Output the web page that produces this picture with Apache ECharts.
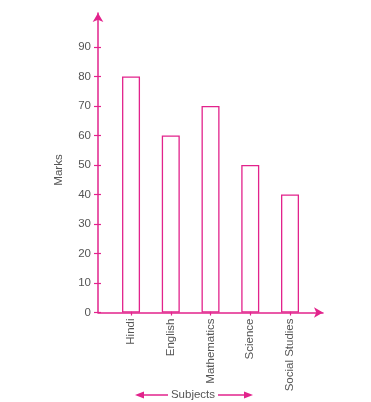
<!DOCTYPE html>
<html>
<head>
<meta charset="utf-8">
<script src="https://cdn.jsdelivr.net/npm/echarts@6/dist/echarts.min.js"></script>
<style>
html,body{margin:0;padding:0;background:#fff;}
#chart{width:371px;height:402px;}
</style>
</head>
<body>
<div id="chart"></div>
<script>
// Data
var subjects = ['Hindi', 'English', 'Mathematics', 'Science', 'Social Studies'];
var marks = [80, 60, 70, 50, 40];
var yTicks = [0, 10, 20, 30, 40, 50, 60, 70, 80, 90];

var MAG = '#e2238c';
var TXT = '#555555';
var FONT = '"Liberation Sans", Arial, sans-serif';
var FS = 11.5;

var positions = subjects.map(function (s, i) { return i + 1; });
var barData = marks.map(function (v, i) { return [positions[i], v]; });

var gridRect = { left: 98, right: 48, top: 13, bottom: 89.5, containLabel: false };
var xMin = 0.169, xMax = 5.83;
var yMin = 0, yMax = 101.5;

var chart = echarts.init(document.getElementById('chart'), null, { renderer: 'canvas' });
chart.setOption({
  animation: false,
  backgroundColor: '#fff',
  grid: [
    Object.assign({}, gridRect),
    Object.assign({}, gridRect)
  ],
  xAxis: [{
    type: 'value', gridIndex: 0, min: xMin, max: xMax,
    splitLine: { show: false },
    axisLine: { show: true, onZero: false, lineStyle: { color: MAG, width: 1.5 },
      symbol: ['none', 'arrow'], symbolSize: [8, 9] },
    axisTick: { show: true, length: 3, customValues: positions, lineStyle: { color: MAG, width: 1.2 } },
    axisLabel: {
      customValues: positions, rotate: 90, margin: 6,
      color: TXT, fontSize: FS, fontFamily: FONT,
      formatter: function (v) { return subjects[Math.round(v) - 1] || ''; }
    }
  }, {
    type: 'value', gridIndex: 1, min: xMin, max: xMax,
    splitLine: { show: false },
    axisLine: { show: false },
    axisTick: { show: true, inside: true, length: 3, customValues: positions, lineStyle: { color: MAG, width: 1.2 } },
    axisLabel: { show: false }
  }],
  yAxis: [{
    type: 'value', gridIndex: 0, min: yMin, max: yMax,
    splitLine: { show: false },
    axisLine: { show: true, onZero: false, lineStyle: { color: MAG, width: 1.5 },
      symbol: ['none', 'arrow'], symbolSize: [8, 9] },
    axisTick: { show: true, length: 4, customValues: yTicks, lineStyle: { color: MAG, width: 1.2 } },
    axisLabel: { customValues: yTicks, margin: 7, color: TXT, fontSize: FS, fontFamily: FONT }
  }, {
    type: 'value', gridIndex: 1, min: yMin, max: yMax,
    splitLine: { show: false },
    axisLine: { show: false },
    axisTick: { show: true, inside: true, length: 3, customValues: yTicks, lineStyle: { color: MAG, width: 1.2 } },
    axisLabel: { show: false }
  }],
  series: [{
    type: 'bar',
    xAxisIndex: 0, yAxisIndex: 0,
    data: barData,
    barWidth: 18,
    itemStyle: { color: '#ffffff', borderColor: MAG, borderWidth: 1.3 }
  }],
  graphic: [
    {
      type: 'text', x: 59, y: 170, rotation: Math.PI / 2,
      style: { text: 'Marks', fill: TXT, font: FS + 'px ' + FONT, align: 'center', verticalAlign: 'middle' }
    },
    {
      type: 'text', x: 193, y: 395,
      style: { text: 'Subjects', fill: TXT, font: FS + 'px ' + FONT, align: 'center', verticalAlign: 'middle' }
    },
    { type: 'line', shape: { x1: 140, y1: 395, x2: 168, y2: 395 }, style: { stroke: MAG, lineWidth: 1.5 } },
    { type: 'line', shape: { x1: 218, y1: 395, x2: 248, y2: 395 }, style: { stroke: MAG, lineWidth: 1.5 } },
    { type: 'polygon', shape: { points: [[135, 395], [144, 391.5], [144, 398.5]] }, style: { fill: MAG } },
    { type: 'polygon', shape: { points: [[253, 395], [244, 391.5], [244, 398.5]] }, style: { fill: MAG } }
  ]
});
</script>
</body>
</html>
